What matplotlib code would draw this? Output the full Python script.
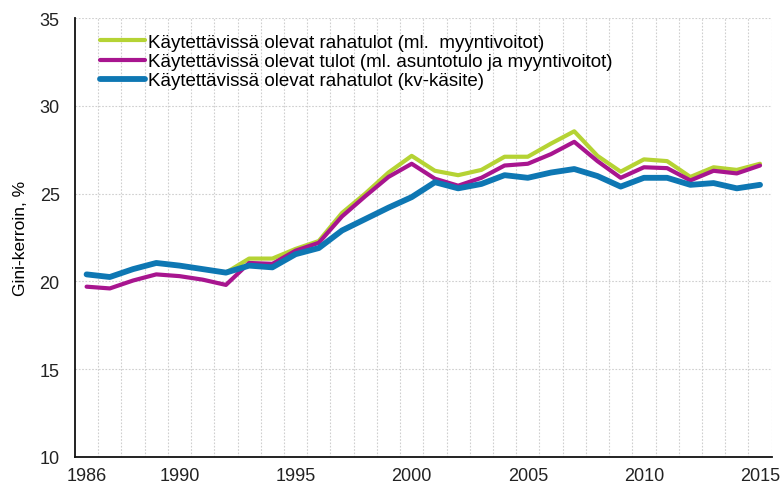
import numpy as np
import matplotlib
matplotlib.use('Agg')
import matplotlib.pyplot as plt
from matplotlib.ticker import FixedLocator

years = list(range(1986, 2016))

# Käytettävissä olevat rahatulot (ml. myyntivoitot) - starts 1992
green = [np.nan] * 6 + [20.5, 21.3, 21.3, 21.85, 22.3, 23.9, 25.0, 26.2, 27.15,
                        26.3, 26.05, 26.35, 27.1, 27.1, 27.85, 28.55, 27.15, 26.25,
                        26.95, 26.85, 25.95, 26.5, 26.35, 26.7]
purple = [19.7, 19.6, 20.05, 20.4, 20.3, 20.1, 19.8, 21.05, 21.0, 21.75, 22.2,
          23.7, 24.85, 25.95, 26.7, 25.85, 25.45, 25.9, 26.6, 26.7, 27.25, 27.95,
          26.85, 25.9, 26.5, 26.45, 25.75, 26.3, 26.15, 26.6]
blue = [20.4, 20.25, 20.7, 21.05, 20.9, 20.7, 20.5, 20.9, 20.8, 21.55, 21.9,
        22.9, 23.55, 24.2, 24.8, 25.65, 25.3, 25.55, 26.05, 25.9, 26.2, 26.4,
        26.0, 25.4, 25.9, 25.9, 25.5, 25.6, 25.3, 25.5]

labels = ['Käytettävissä olevat rahatulot (ml.  myyntivoitot)',
          'Käytettävissä olevat tulot (ml. asuntotulo ja myyntivoitot)',
          'Käytettävissä olevat rahatulot (kv-käsite)']

plt.rcParams['font.family'] = ['Liberation Sans', 'DejaVu Sans']

fig = plt.figure(figsize=(7.81, 4.89), dpi=100)
ax = fig.add_axes([0.096, 0.0634, 0.892, 0.8977])

ax.plot(years, green, color='#b5d334', lw=3, label=labels[0], solid_capstyle='round')
ax.plot(years, purple, color='#a8158f', lw=3, label=labels[1], solid_capstyle='round')
ax.plot(years, blue, color='#0e77b3', lw=4.2, label=labels[2], solid_capstyle='round')

ax.set_xlim(1985.5, 2015.5)
ax.set_ylim(10, 35)
ax.set_yticks([10, 15, 20, 25, 30, 35])
ax.set_xticks([1986, 1990, 1995, 2000, 2005, 2010, 2015])
ax.xaxis.set_minor_locator(FixedLocator(np.arange(1986.5, 2016, 1)))
ax.tick_params(which='both', length=0, labelsize=13, colors='#222222')
ax.tick_params(axis='x', pad=7)
ax.tick_params(axis='y', pad=11)

ax.grid(axis='y', which='major', color='#cfcfcf', lw=0.8, ls=(0, (1.5, 1.5)))
ax.grid(axis='x', which='minor', color='#cfcfcf', lw=0.8, ls=(0, (1.5, 1.5)))
ax.set_axisbelow(True)

for s in ['top', 'right']:
    ax.spines[s].set_visible(False)
ax.spines['left'].set_color('#111111')
ax.spines['bottom'].set_color('#111111')
ax.spines['left'].set_linewidth(1.3)
ax.spines['bottom'].set_linewidth(1.3)

ax.set_ylabel('Gini-kerroin, %', fontsize=12.5, labelpad=8)

leg = ax.legend(loc='upper left', bbox_to_anchor=(0.014, 0.998), frameon=False,
                fontsize=13.5, handlelength=2.4, handletextpad=0.15,
                labelspacing=0.11, borderaxespad=0.4)

fig.savefig('out.png', dpi=100)
